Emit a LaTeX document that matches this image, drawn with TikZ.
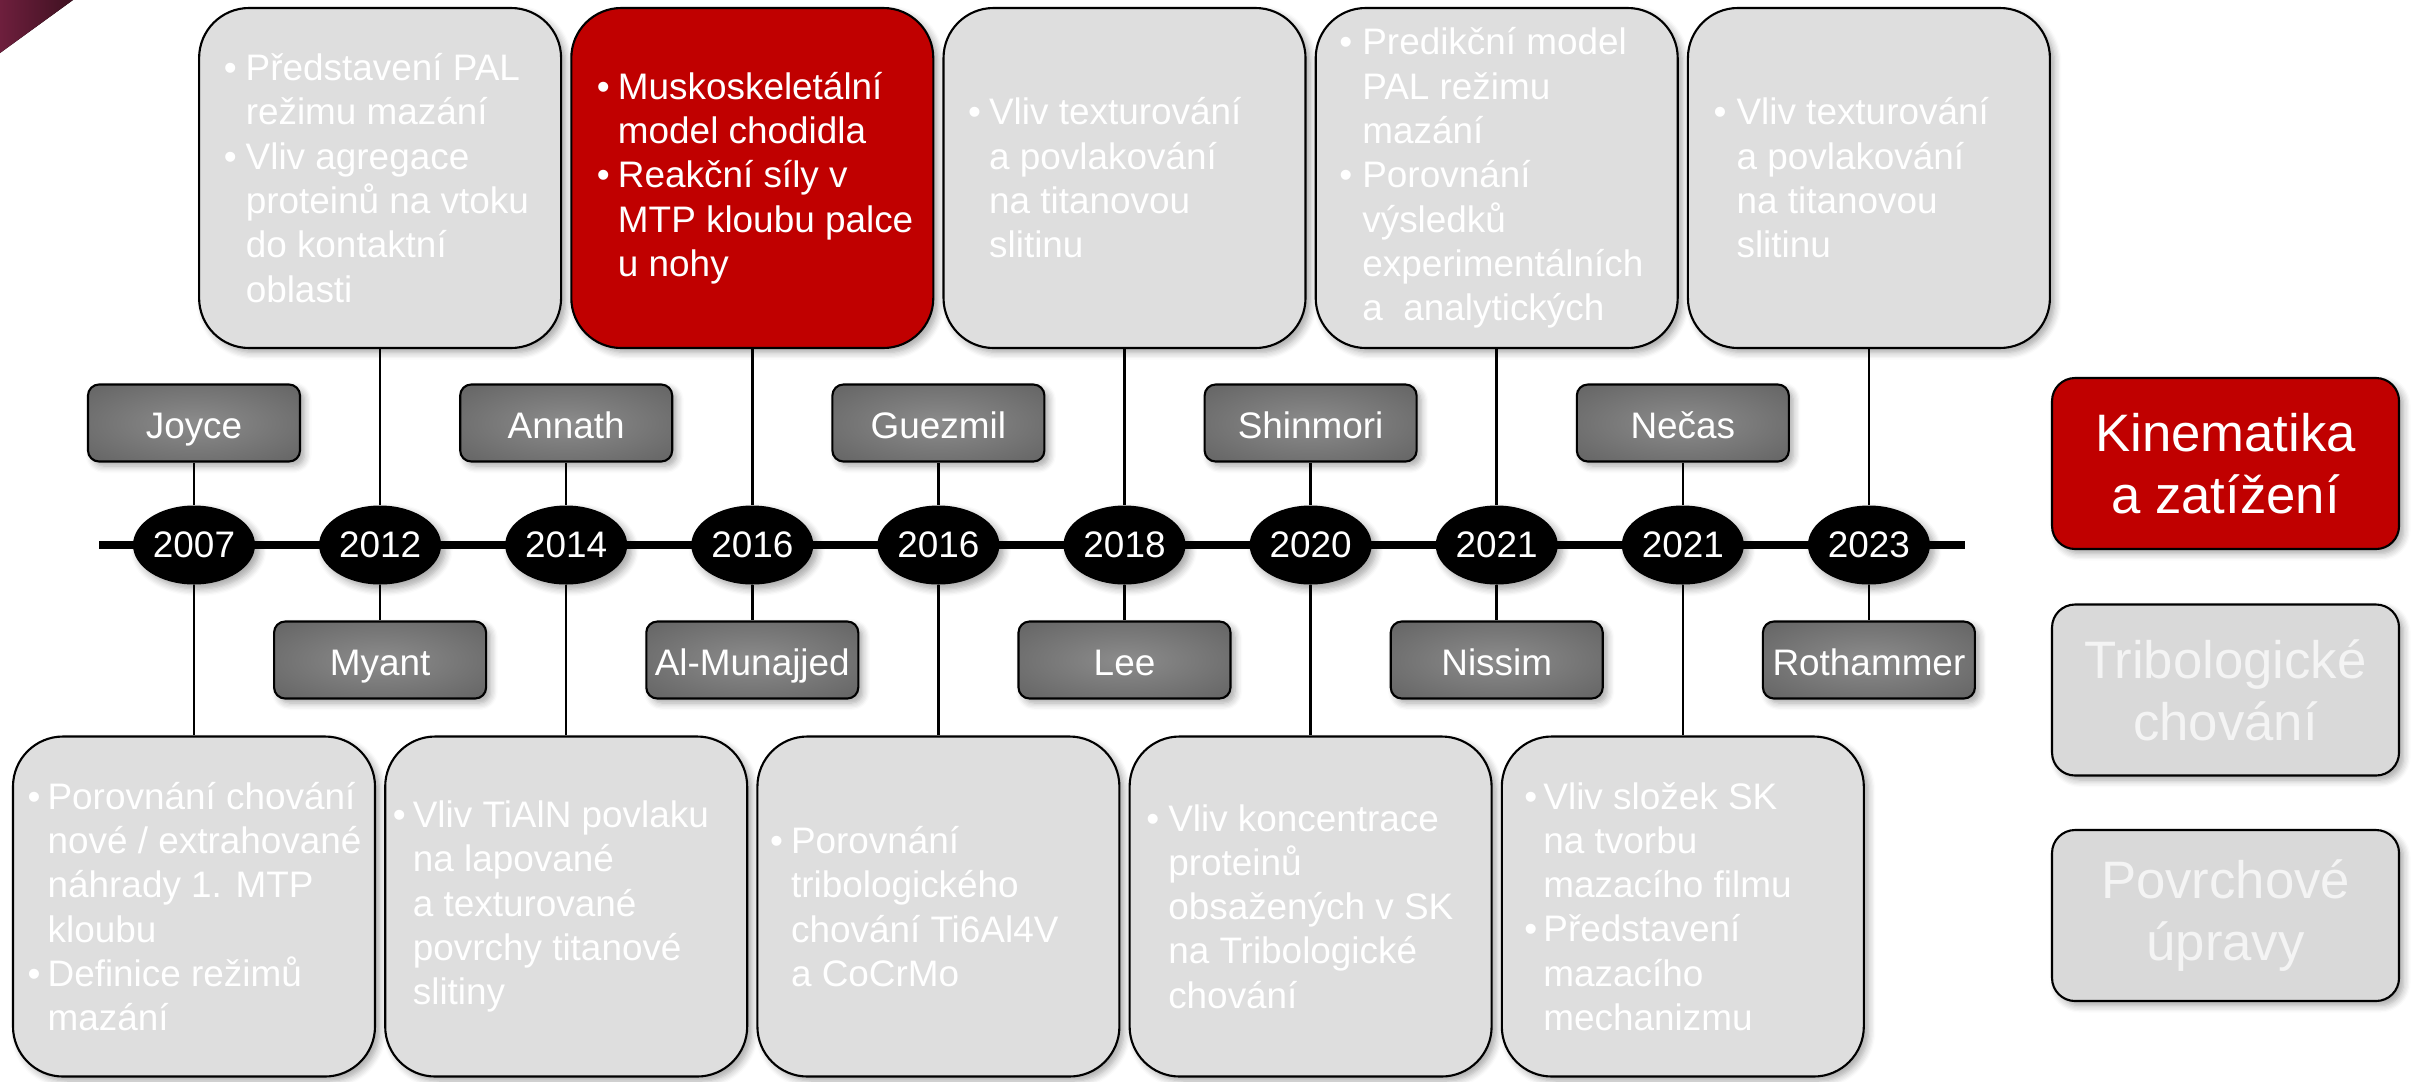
\documentclass[tikz,border=0pt]{standalone}
\usepackage{fontspec}
\setmainfont{Liberation Sans}
\usetikzlibrary{shapes.geometric,shadows.blur}

\definecolor{boxgray}{HTML}{DEDEDE}
\definecolor{leggray}{HTML}{D9D9D9}
\definecolor{legtext}{HTML}{F4F4F4}
\definecolor{hired}{HTML}{C00000}
\definecolor{nmin}{HTML}{8C8C8C}
\definecolor{nmout}{HTML}{545454}
\definecolor{cornerA}{HTML}{6E1F3D}
\definecolor{cornerB}{HTML}{3F1121}

% radial fill of the author boxes: light centre, dark rim
\pgfdeclareradialshading{namesh}{\pgfpoint{0bp}{0bp}}{color(0bp)=(nmin); color(50bp)=(nmout)}

\pgfdeclarelayer{bg}
\pgfsetlayers{bg,main}

% hanging bullets inside the topic boxes
\newlength{\bulw}
\newcommand\itembul{\makebox[\bulw][l]{\textbullet}}
\newcommand\itemcont{\hspace*{\bulw}}

\begin{document}
\begin{tikzpicture}[x=0.1mm,y=-0.1mm,
  softshadow/.style={blur shadow={shadow xshift=0.45mm, shadow yshift=-0.45mm,
      shadow blur radius=0.7mm, shadow blur steps=6, shadow opacity=35}},
  bigbox/.style={draw=black, line width=0.6pt, rounded corners=5mm, fill=boxgray,
      minimum width=36.2mm, minimum height=34mm, inner sep=0pt, softshadow},
  boxtext/.style 2 args={anchor=west, xshift=#1mm, inner sep=0pt, align=left,
      text=white, font=\fontsize{10.5}{12.6}\selectfont,
      execute at begin node={\setlength{\bulw}{#2mm}}},
  namebox/.style={draw=black, line width=0.6pt, rounded corners=1.1mm, shading=namesh,
      minimum width=21.2mm, minimum height=7.7mm, inner sep=0pt, text=white,
      text height=11pt, text depth=2.2pt,
      font=\fontsize{10.5}{12.6}\selectfont, softshadow},
  yearnode/.style={ellipse, fill=black, minimum width=12.2mm, minimum height=7.9mm,
      inner sep=0pt, text=white, font=\fontsize{10.5}{12.6}\selectfont, softshadow},
  legbox/.style={draw=black, line width=0.6pt, rounded corners=2.3mm,
      minimum width=34.7mm, minimum height=17.1mm, inner sep=0pt, align=center,
      font=\fontsize{15}{17.6}\selectfont, softshadow},
  link/.style={line width=0.7pt, draw=black},
  axisline/.style={line width=2.2pt, draw=black},
]
\useasboundingbox (0,0) rectangle (2418,1081);

% corner mark
\fill[left color=cornerA, right color=cornerB] (0,0) -- (73,0) -- (0,53) -- cycle;

% axis end points
\coordinate (axl) at (99,545);
\coordinate (axr) at (1965,545);

% years on the axis
\foreach \yr [count=\i from 0] in {2007,2012,2014,2016,2016,2018,2020,2021,2021,2023}
  \node[yearnode] (y\i) at ({194+186.1*\i},545) {\yr};

% authors above and below the axis
\foreach \nm/\i in {Joyce/0,Annath/2,Guezmil/4,Shinmori/6,Nečas/8}
  \node[namebox] (n\i) at ({194+186.1*\i},423) {\nm};
\foreach \nm/\i in {Myant/1,Al-Munajjed/3,Lee/5,Nissim/7,Rothammer/9}
  \node[namebox] (n\i) at ({194+186.1*\i},660) {\nm};

% topic boxes above the axis
\node[bigbox] (b1) at ({194+186.1*1},178) {};
\node[bigbox, fill=hired] (b3) at ({194+186.1*3},178) {};
\node[bigbox] (b5) at ({194+186.1*5},178) {};
\node[bigbox] (b7) at ({194+186.1*7},178) {};
\node[bigbox] (b9) at ({194+186.1*9},178) {};

% topic boxes below the axis
\node[bigbox] (b0) at ({194+186.1*0},906.5) {};
\node[bigbox] (b2) at ({194+186.1*2},906.5) {};
\node[bigbox] (b4) at ({194+186.1*4},906.5) {};
\node[bigbox] (b6) at ({194+186.1*6},906.5) {};
\node[bigbox] (b8) at ({194+186.1*8},906.5) {};

% texts of the topic boxes
\node[boxtext={2.5}{2.2}] (t1) at (b1.west) {\itembul Představení PAL\\\itemcont režimu mazání\\\itembul Vliv agregace\\\itemcont proteinů na vtoku\\\itemcont do kontaktní\\\itemcont oblasti};
\node[boxtext={2.6}{2.1}] (t3) at (b3.west) {\itembul Muskoskeletální\\\itemcont model chodidla\\\itembul Reakční síly v\\\itemcont MTP kloubu palce\\\itemcont u nohy};
\node[boxtext={2.5}{2.1}] (t5) at (b5.west) {\itembul Vliv texturování\\\itemcont a povlakování\\\itemcont na titanovou\\\itemcont slitinu};
\node[boxtext={2.4}{2.3}] (t7) at (b7.west) {\itembul Predikční model\\\itemcont PAL režimu\\\itemcont mazání\\\itembul Porovnání\\\itemcont výsledků\\\itemcont experimentálních\\\itemcont a\ \ analytických};
\node[boxtext={2.6}{2.3}] (t9) at (b9.west) {\itembul Vliv texturování\\\itemcont a povlakování\\\itemcont na titanovou\\\itemcont slitinu};

\node[boxtext={1.5}{2.0}] (t0) at (b0.west) {\itembul Porovnání chování\\\itemcont nové / extrahované\\\itemcont náhrady 1. MTP\\\itemcont kloubu\\\itembul Definice režimů\\\itemcont mazání};
\node[boxtext={0.8}{2.0}] (t2) at (b2.west) {\itembul Vliv TiAlN povlaku\\\itemcont na lapované\\\itemcont a texturované\\\itemcont povrchy titanové\\\itemcont slitiny};
\node[boxtext={1.3}{2.1}] (t4) at (b4.west) {\itembul Porovnání\\\itemcont tribologického\\\itemcont chování Ti6Al4V\\\itemcont a CoCrMo};
\node[boxtext={1.7}{2.2}] (t6) at (b6.west) {\itembul Vliv koncentrace\\\itemcont proteinů\\\itemcont obsažených v SK\\\itemcont na Tribologické\\\itemcont chování};
\node[boxtext={2.3}{1.9}] (t8) at (b8.west) {\itembul Vliv složek SK\\\itemcont na tvorbu\\\itemcont mazacího filmu\\\itembul Představení\\\itemcont mazacího\\\itemcont mechanizmu};

% legend
\node[legbox, fill=hired, text=white] (l1) at (2225.5,463.5) {Kinematika\\a zatížení};
\node[legbox, fill=leggray, text=legtext] (l2) at (2225.5,690) {Tribologické\\chování};
\node[legbox, fill=leggray, text=legtext] (l3) at (2225.5,915.5) {Povrchové\\úpravy};

% axis and connectors behind the nodes
\begin{pgfonlayer}{bg}
  \draw[axisline] (axl) -- (axr);
  \foreach \i in {0,...,9} {
    \draw[link] (y\i) -- (n\i);
    \draw[link] (y\i) -- (b\i);
  }
\end{pgfonlayer}
\end{tikzpicture}
\end{document}
